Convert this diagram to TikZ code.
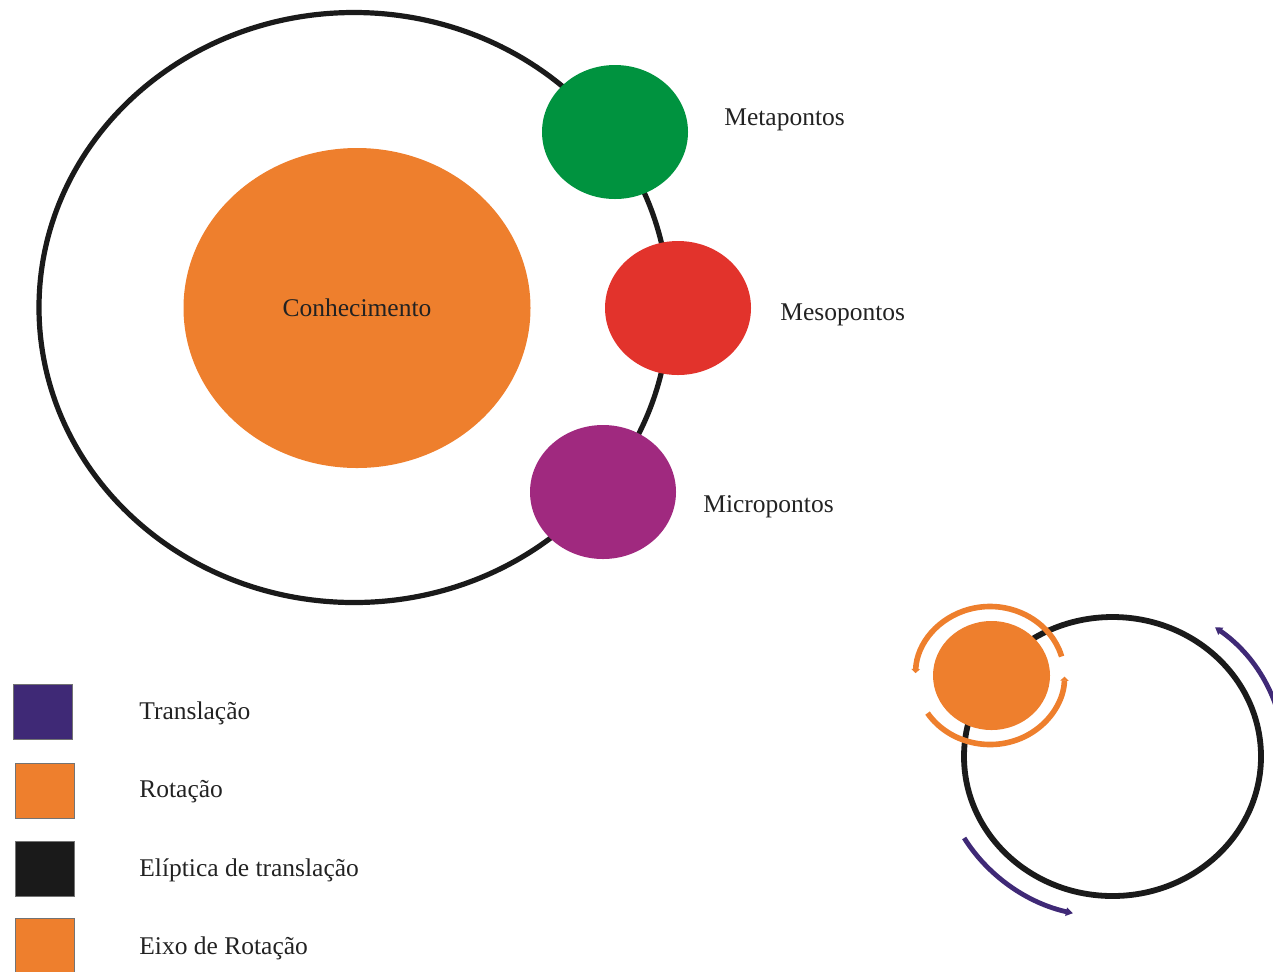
\documentclass[tikz,border=0pt]{standalone}
\usepackage{fontspec}
\setmainfont{Liberation Serif}
\usetikzlibrary{shapes.geometric,arrows.meta}

\definecolor{knowOrange}{HTML}{EE7F2D}
\definecolor{metaGreen}{HTML}{00933F}
\definecolor{mesoRed}{HTML}{E2332C}
\definecolor{microPurple}{HTML}{A0297F}
\definecolor{transPurple}{HTML}{3F2976}
\definecolor{orbitBlack}{HTML}{1A1A1A}
\definecolor{inkGray}{HTML}{222222}

\tikzset{
  disk/.style={ellipse, inner sep=0pt, outer sep=0pt},
  orbit/.style={ellipse, inner sep=0pt, draw=orbitBlack},
  label/.style={text=inkGray, font=\fontsize{12.75}{15}\selectfont, inner sep=0pt},
  legbox/.style={rectangle, inner sep=0pt, minimum width=29.5pt, minimum height=27.5pt,
                 draw=black!55, line width=0.4pt},
  spin/.style={draw=knowOrange, line width=2.8pt},
  spintip/.style={spin, -{Triangle[length=2pt,width=4.2pt]}},
  move/.style={draw=transPurple, line width=2.4pt,
               -{Triangle[length=3.5pt,width=4.2pt]}},
}

\begin{document}
\begin{tikzpicture}[x=0.5pt, y=-0.5pt]
  \useasboundingbox (0,0) rectangle (1273,971);
  \clip (0,0) rectangle (1273,971);

  % --- knowledge orbit with its three levels of points ---
  \node[orbit, line width=2.6pt, minimum width=315pt, minimum height=295pt] (bigOrbit) at (354,307.5) {};
  \node[disk, fill=knowOrange, minimum width=173.5pt, minimum height=160pt] (know) at (357,308) {};
  \node[label, anchor=base] (knowText) at (357,316) {Conhecimento};

  \node[disk, fill=metaGreen,   minimum width=73pt, minimum height=67pt] (meta)  at (615,132) {};
  \node[disk, fill=mesoRed,     minimum width=73pt, minimum height=67pt] (meso)  at (678,308) {};
  \node[disk, fill=microPurple, minimum width=73pt, minimum height=67pt] (micro) at (603,492) {};

  \node[label, anchor=base west] (metaText)  at (724,125) {Metapontos};
  \node[label, anchor=base west] (mesoText)  at (780,320) {Mesopontos};
  \node[label, anchor=base west] (microText) at (703,512) {Micropontos};

  % --- legend ---
  \node[legbox, fill=transPurple] (keyTrans) at (43,711.5) {};
  \node[legbox, fill=knowOrange]  (keyRot)   at (44.5,791) {};
  \node[legbox, fill=orbitBlack]  (keyEll)   at (44.5,868.5) {};
  \node[legbox, fill=knowOrange, minimum height=28.5pt] (keyAxis) at (44.5,946.5) {};

  \node[label, anchor=base west] (txtTrans) at (139,719) {Translação};
  \node[label, anchor=base west] (txtRot)   at (139,797) {Rotação};
  \node[label, anchor=base west] (txtEll)   at (139,876) {Elíptica de translação};
  \node[label, anchor=base west] (txtAxis)  at (139,954) {Eixo de Rotação};

  % --- small orbit: translation and rotation ---
  \node[orbit, line width=2.9pt, minimum width=148.5pt, minimum height=139.5pt] (smallOrbit) at (1112.5,756.5) {};
  \node[disk, fill=knowOrange, minimum width=58.5pt, minimum height=54.5pt] (planet) at (991.5,675.5) {};

  \coordinate (spinC) at (990,675.5);
  \draw[spintip] (spinC) ++(16:37.25pt and 34.5pt)
      arc[start angle=16, end angle=178, x radius=37.25pt, y radius=34.5pt];
  \draw[spintip] (spinC) ++(213:37.25pt and 34.5pt)
      arc[start angle=213, end angle=359, x radius=37.25pt, y radius=34.5pt];

  \coordinate (moveC) at (smallOrbit.center);
  \draw[move] (moveC) ++(210.4:86pt and 80.5pt)
      arc[start angle=210.4, end angle=256.7, x radius=86pt, y radius=80.5pt];
  \draw[move] (moveC) ++(0:86pt and 80.5pt)
      arc[start angle=0, end angle=53.4, x radius=86pt, y radius=80.5pt];
\end{tikzpicture}
\end{document}
